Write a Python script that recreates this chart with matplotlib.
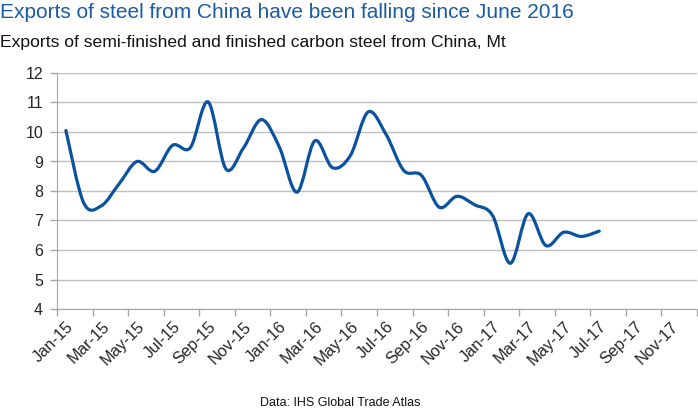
import numpy as np
import matplotlib
matplotlib.use("Agg")
import matplotlib.pyplot as plt
from matplotlib.path import Path
from matplotlib.patches import PathPatch

plt.rcParams['font.family'] = ['Liberation Sans', 'DejaVu Sans']

# monthly exports, Mt (Jan-15 .. Jul-17)
exports = [10.05, 7.6, 7.5, 8.25, 9.0, 8.67, 9.55, 9.47, 11.02, 8.75, 9.47, 10.42,
           9.5, 7.96, 9.7, 8.79, 9.2, 10.68, 9.93, 8.7, 8.53, 7.45, 7.82, 7.53,
           7.17, 5.55, 7.23, 6.15, 6.6, 6.46, 6.64]
month_labels = ['Jan', 'Feb', 'Mar', 'Apr', 'May', 'Jun',
                'Jul', 'Aug', 'Sep', 'Oct', 'Nov', 'Dec']
years = ['15', '16', '17']
categories = [f"{m}-{y}" for y in years for m in month_labels]

x = np.arange(len(exports))
y = np.array(exports)

fig = plt.figure(figsize=(6.98, 4.11), dpi=100)
ax = fig.add_axes([57 / 698, 102 / 411, 640 / 698, 236 / 411])

# smoothed line like Excel (Bezier segments through the data points)
verts = [(x[0], y[0])]
codes = [Path.MOVETO]
n = len(x)
for i in range(n - 1):
    p0 = np.array([x[max(i - 1, 0)], y[max(i - 1, 0)]])
    p1 = np.array([x[i], y[i]])
    p2 = np.array([x[i + 1], y[i + 1]])
    p3 = np.array([x[min(i + 2, n - 1)], y[min(i + 2, n - 1)]])
    c1 = p1 + (p2 - p0) / 6
    c2 = p2 - (p3 - p1) / 6
    verts += [tuple(c1), tuple(c2), tuple(p2)]
    codes += [Path.CURVE4] * 3
ax.add_patch(PathPatch(Path(verts, codes), facecolor='none',
                       edgecolor='#0a52a0', lw=2.3, capstyle='round', zorder=3))

ax.set_xlim(-0.5, len(categories) - 0.5)
ax.set_ylim(4, 12)
ax.set_yticks(range(4, 13))
ax.yaxis.grid(True, color='#bfbfbf', lw=1)
ax.set_axisbelow(True)

ax.set_xticks(np.arange(-0.5, len(categories), 2))
ax.set_xticklabels([])
ax.set_xticks(np.arange(0, len(categories), 2), minor=True)
ax.set_xticklabels(categories[::2], minor=True, rotation=45, ha='right',
                   rotation_mode='anchor', fontsize=11.8, color='#262626')
ax.tick_params(axis='x', which='major', length=5, color='#a6a6a6', width=1)
ax.tick_params(axis='x', which='minor', length=0, pad=7)
ax.tick_params(axis='y', length=5, color='#a6a6a6', width=1,
               labelsize=11.5, labelcolor='#262626', pad=5)

for s in ['top', 'right']:
    ax.spines[s].set_visible(False)
for s in ['left', 'bottom']:
    ax.spines[s].set_color('#a6a6a6')

fig.text(0.0, 1 - 12 / 411, 'Exports of steel from China have been falling since June 2016',
         color='#1a5ba6', fontsize=15, va='center', ha='left')
fig.text(0.0, 1 - 42 / 411, 'Exports of semi-finished and finished carbon steel from China, Mt',
         color='#111111', fontsize=12.6, va='center', ha='left')
fig.text(340 / 698, 1 - 403 / 411, 'Data: IHS Global Trade Atlas',
         color='#111111', fontsize=9, va='center', ha='center')

fig.savefig('out.png', dpi=100)
